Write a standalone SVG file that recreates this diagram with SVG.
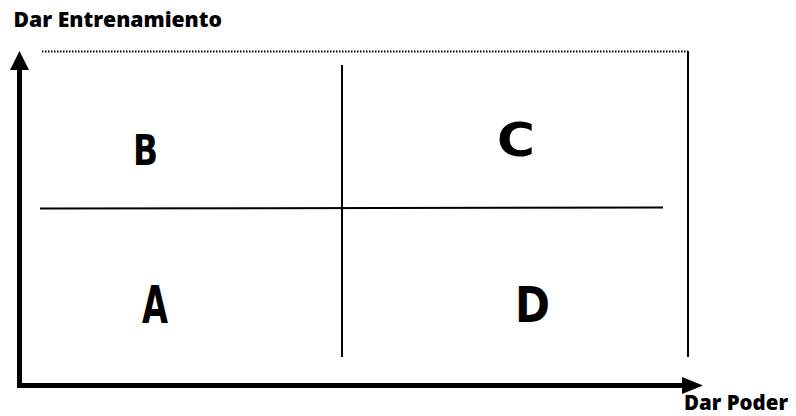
<svg xmlns="http://www.w3.org/2000/svg" width="796" height="416" viewBox="0 0 796 416">
<style>
.lbl{font-family:"Open Sans","Liberation Sans",sans-serif;font-weight:800;font-size:20.5px;fill:#000}
.big{font-family:"DejaVu Sans","Liberation Sans",sans-serif;font-weight:bold;fill:#000;text-anchor:middle}
.thin{stroke:#000;stroke-width:2;fill:none}
.axis{stroke:#000;stroke-width:5;fill:none}
</style>
<rect width="796" height="416" fill="#fff"/>
<g id="connectors">
<line class="thin" x1="42" y1="51.5" x2="688" y2="51.5" stroke-dasharray="1.5,1.5"/>
<line class="thin" x1="688" y1="51" x2="688" y2="357"/>
<line class="thin" x1="342" y1="65" x2="342" y2="357"/>
<line class="thin" x1="40" y1="208.5" x2="663" y2="207.5"/>
<path class="axis" d="M19.5,385.5 L19.5,68"/>
<path class="axis" d="M17,385.5 L685,385.5"/>
<path d="M10,70 L19.5,51 L29,70 Z" fill="#000"/>
<path d="M682,377 L703,385.5 L682,394 Z" fill="#000"/>
</g>
<g id="label-y"><text class="lbl" x="13.5" y="27" textLength="208.5" lengthAdjust="spacingAndGlyphs">Dar Entrenamiento</text></g>
<g id="label-x"><text class="lbl" x="684" y="410" font-size="19" textLength="104" lengthAdjust="spacingAndGlyphs">Dar Poder</text></g>
<g id="node-B"><text class="big" x="145.5" y="165" font-size="42" textLength="25" lengthAdjust="spacingAndGlyphs">B</text></g>
<g id="node-C"><text class="big" x="516" y="156" font-size="46" textLength="38" lengthAdjust="spacingAndGlyphs">C</text></g>
<g id="node-A"><text class="big" x="155" y="323" font-size="52" textLength="26" lengthAdjust="spacingAndGlyphs">A</text></g>
<g id="node-D"><text class="big" x="532.5" y="322" font-size="50" textLength="35" lengthAdjust="spacingAndGlyphs">D</text></g>
</svg>
